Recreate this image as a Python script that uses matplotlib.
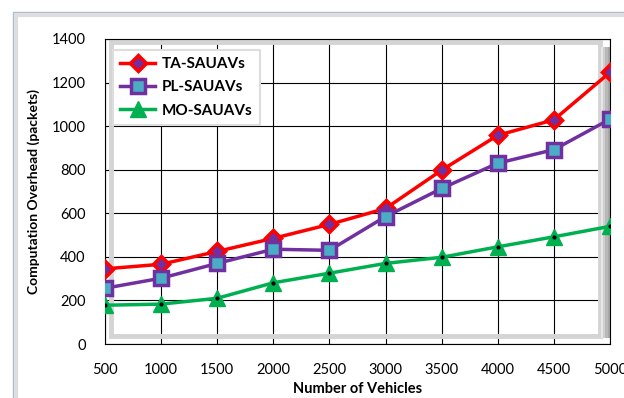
import numpy as np
import matplotlib.pyplot as plt
from matplotlib.patches import Rectangle

plt.rcParams['font.family'] = ['Lato', 'DejaVu Sans']

vehicles = [500, 1000, 1500, 2000, 2500, 3000, 3500, 4000, 4500, 5000]
ta = [345, 366, 425, 485, 549, 622, 798, 958, 1029, 1247]
pl = [256, 302, 370, 435, 430, 585, 714, 830, 892, 1032]
mo = [178, 183, 210, 281, 325, 370, 398, 446, 492, 540]
yticks = [0, 200, 400, 600, 800, 1000, 1200, 1400]

fig = plt.figure(figsize=(6.24, 3.98), dpi=100)
W, H = 624, 398

# outer chart frame (extends beyond image on right/bottom)
fig.patches.append(Rectangle((13 / W, 1 - 420 / H), 640 / W, 408 / H,
                             transform=fig.transFigure, fill=False,
                             edgecolor='#a9bcd6', linewidth=1.0))
fig.patches.append(Rectangle((16 / W, 1 - 420 / H), 640 / W, 405 / H,
                             transform=fig.transFigure, fill=False,
                             edgecolor='#dedede', linewidth=3.0))

ax = fig.add_axes([105 / W, 1 - 344 / H, 505 / W, 305 / H])

# inner 3D-ish gray shadow of the plot area
ax.add_patch(Rectangle((0.012, 0.025), 0.968, 0.965, transform=ax.transAxes,
                       fill=False, edgecolor='#d4d4d4', linewidth=3.5, zorder=1))
shades = ['#e6e6e6', '#cfcfcf', '#b8b8b8', '#a8a8a8']
for i, c in enumerate(shades):
    ax.add_patch(Rectangle((0.982 + i * 0.0045, 0.02), 0.0045, 0.955,
                           transform=ax.transAxes, facecolor=c,
                           edgecolor='none', zorder=1))

ax.plot(vehicles, ta, color='#ff0000', lw=2.5, marker='D', ms=8,
        mfc='#7030a0', mec='#ff0000', mew=2.5, label='TA-SAUAVs', zorder=4)
ax.plot(vehicles, pl, color='#7030a0', lw=2.5, marker='s', ms=10,
        mfc='#4bacc6', mec='#7030a0', mew=2.5, label='PL-SAUAVs', zorder=4)
ax.plot(vehicles, mo, color='#00b050', lw=2.5, marker='^', ms=11,
        mfc='#00b050', mec='#00b050', label='MO-SAUAVs', zorder=4)
ax.plot(vehicles, mo, ls='none', marker='o', ms=2, color='black', zorder=5)

ax.set_xlim(500, 5000)
ax.set_ylim(0, 1400)
ax.set_xticks(vehicles)
ax.set_yticks(yticks)
ax.tick_params(length=0, labelsize=10.5, pad=14)
ax.grid(True, color='black', linewidth=0.8)
ax.set_axisbelow(True)
for s in ax.spines.values():
    s.set_linewidth(0.8)
    s.set_color('black')

ax.set_xlabel('Number of Vehicles', fontsize=10.5, fontweight='bold', labelpad=3)
ax.set_ylabel('Computation Overhead (packets)', fontsize=10, fontweight='bold', labelpad=8)

leg = ax.legend(loc='upper left', bbox_to_anchor=(0.0, 0.99),
                prop={'weight': 'bold', 'size': 11}, frameon=True,
                fancybox=False, edgecolor='#dddddd', framealpha=1,
                handlelength=2.3, borderpad=0.5, labelspacing=0.6,
                handletextpad=0.4)
leg.get_frame().set_linewidth(1.5)

fig.savefig('out.png', dpi=100)
